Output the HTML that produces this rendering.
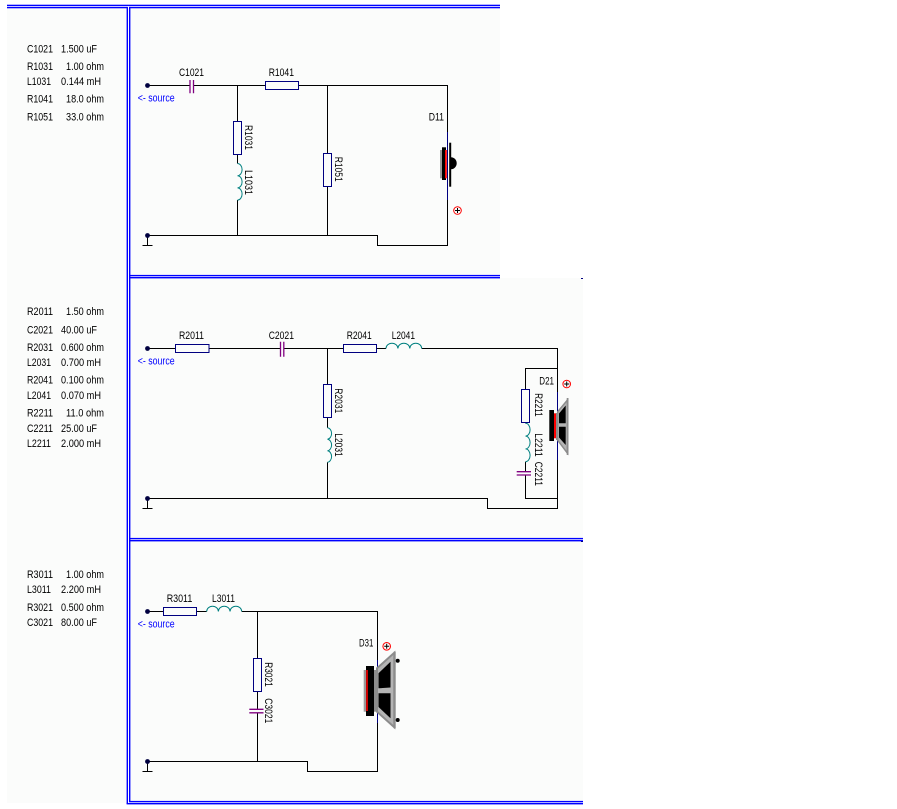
<!DOCTYPE html>
<html><head><meta charset="utf-8"><style>
html,body{margin:0;padding:0;background:#fff;width:897px;height:809px;overflow:hidden}
svg{display:block}
text{font-family:"Liberation Sans",sans-serif;font-size:11px;fill:#000}
.w{fill:none;stroke:#000;stroke-width:1}
.nv{fill:none;stroke:#000080;stroke-width:1}
.res{fill:#fbfcfb;stroke:#000080;stroke-width:1}
.ind{fill:none;stroke:#008080;stroke-width:1}
.cap{fill:none;stroke:#800080;stroke-width:1.3}
.src{fill:#0000ff}
.b{fill:#0000ff}
</style></head><body>
<svg width="897" height="809" viewBox="0 0 897 809" xmlns="http://www.w3.org/2000/svg">
<!-- backgrounds -->
<rect x="7" y="8" width="120" height="795" fill="#fbfcfb"/>
<rect x="130" y="8" width="370" height="267" fill="#fbfcfb"/>
<rect x="130" y="278" width="453" height="260" fill="#fbfcfb"/>
<rect x="130" y="541" width="453" height="260" fill="#fbfcfb"/>

<!-- blue table borders -->
<rect class="b" x="7" y="4.7" width="493" height="1.4"/>
<rect class="b" x="7" y="6.9" width="120" height="1.4"/>
<rect class="b" x="129" y="6.9" width="371" height="1.4"/>
<rect class="b" x="126.6" y="6.9" width="1.4" height="797"/>
<rect class="b" x="129" y="6.9" width="1.4" height="795"/>
<rect class="b" x="129" y="274.9" width="371" height="1.4"/>
<rect class="b" x="129" y="277" width="371" height="1.4"/>
<rect class="b" x="129" y="537.9" width="454" height="1.4"/>
<rect class="b" x="129" y="540" width="454" height="1.4"/>
<rect class="b" x="129" y="800.9" width="454" height="1.4"/>
<rect class="b" x="126.6" y="803" width="456.4" height="1.4"/>
<rect x="581" y="278" width="2" height="1" fill="#000080"/>
<rect x="581" y="541" width="2" height="1" fill="#000080"/>

<!-- ===== left column text ===== -->
<g>
<text x="27" y="52.5" textLength="26" lengthAdjust="spacingAndGlyphs">C1021</text>
<text x="61" y="52.5" textLength="36" lengthAdjust="spacingAndGlyphs">1.500 uF</text>
<text x="27" y="70" textLength="26" lengthAdjust="spacingAndGlyphs">R1031</text>
<text x="66" y="70" textLength="38" lengthAdjust="spacingAndGlyphs">1.00 ohm</text>
<text x="27" y="85" textLength="24" lengthAdjust="spacingAndGlyphs">L1031</text>
<text x="61" y="85" textLength="40" lengthAdjust="spacingAndGlyphs">0.144 mH</text>
<text x="27" y="102.7" textLength="26" lengthAdjust="spacingAndGlyphs">R1041</text>
<text x="66" y="102.7" textLength="38" lengthAdjust="spacingAndGlyphs">18.0 ohm</text>
<text x="27" y="120.7" textLength="26" lengthAdjust="spacingAndGlyphs">R1051</text>
<text x="66" y="120.7" textLength="38" lengthAdjust="spacingAndGlyphs">33.0 ohm</text>

<text x="27" y="315" textLength="26" lengthAdjust="spacingAndGlyphs">R2011</text>
<text x="66" y="315" textLength="38" lengthAdjust="spacingAndGlyphs">1.50 ohm</text>
<text x="27" y="333.3" textLength="26" lengthAdjust="spacingAndGlyphs">C2021</text>
<text x="61" y="333.3" textLength="36" lengthAdjust="spacingAndGlyphs">40.00 uF</text>
<text x="27" y="351" textLength="26" lengthAdjust="spacingAndGlyphs">R2031</text>
<text x="61" y="351" textLength="43" lengthAdjust="spacingAndGlyphs">0.600 ohm</text>
<text x="27" y="366" textLength="24" lengthAdjust="spacingAndGlyphs">L2031</text>
<text x="61" y="366" textLength="40" lengthAdjust="spacingAndGlyphs">0.700 mH</text>
<text x="27" y="383.3" textLength="26" lengthAdjust="spacingAndGlyphs">R2041</text>
<text x="61" y="383.3" textLength="43" lengthAdjust="spacingAndGlyphs">0.100 ohm</text>
<text x="27" y="399" textLength="24" lengthAdjust="spacingAndGlyphs">L2041</text>
<text x="61" y="399" textLength="40" lengthAdjust="spacingAndGlyphs">0.070 mH</text>
<text x="27" y="416.7" textLength="26" lengthAdjust="spacingAndGlyphs">R2211</text>
<text x="66" y="416.7" textLength="38" lengthAdjust="spacingAndGlyphs">11.0 ohm</text>
<text x="27" y="432" textLength="26" lengthAdjust="spacingAndGlyphs">C2211</text>
<text x="61" y="432" textLength="36" lengthAdjust="spacingAndGlyphs">25.00 uF</text>
<text x="27" y="447" textLength="24" lengthAdjust="spacingAndGlyphs">L2211</text>
<text x="61" y="447" textLength="40" lengthAdjust="spacingAndGlyphs">2.000 mH</text>

<text x="27" y="578" textLength="26" lengthAdjust="spacingAndGlyphs">R3011</text>
<text x="66" y="578" textLength="38" lengthAdjust="spacingAndGlyphs">1.00 ohm</text>
<text x="27" y="593" textLength="24" lengthAdjust="spacingAndGlyphs">L3011</text>
<text x="61" y="593" textLength="40" lengthAdjust="spacingAndGlyphs">2.200 mH</text>
<text x="27" y="611" textLength="26" lengthAdjust="spacingAndGlyphs">R3021</text>
<text x="61" y="611" textLength="43" lengthAdjust="spacingAndGlyphs">0.500 ohm</text>
<text x="27" y="626" textLength="26" lengthAdjust="spacingAndGlyphs">C3021</text>
<text x="61" y="626" textLength="36" lengthAdjust="spacingAndGlyphs">80.00 uF</text>
</g>

<!-- ===== Block 1 ===== -->
<path class="w" d="M147.5,85.5 H190 M193.5,85.5 H447.5 V132"/>
<path class="nv" d="M447.5,132 V200"/>
<path class="w" d="M447.5,200 V245.5 H377.5 V235.5 H147.5 V245.5 M142.5,245.5 H152.5"/>
<path class="w" d="M237.5,85.5 V163.5 M237.5,200 V235.5"/>
<path class="ind" d="M237.5,163.5 a4.6,6.1 0 0 1 0,12.2 a4.6,6.1 0 0 1 0,12.2 a4.6,6.1 0 0 1 0,12.2"/>
<path class="w" d="M327.5,85.5 V235.5"/>
<path class="cap" d="M190,80 V93.3 M193.5,80 V93.3"/>
<rect class="res" x="265.5" y="81.5" width="33" height="8"/>
<rect class="res" x="233.5" y="121.5" width="8" height="33"/>
<rect class="res" x="323.5" y="153.5" width="8" height="33"/>
<circle cx="147.5" cy="85.5" r="2.4" fill="#000040"/>
<circle cx="147.5" cy="235.5" r="2.4" fill="#000040"/>
<text class="src" x="137.7" y="101.5" textLength="37" lengthAdjust="spacingAndGlyphs">&lt;- source</text>
<text x="179" y="76" textLength="25" lengthAdjust="spacingAndGlyphs">C1021</text>
<text x="268.7" y="76" textLength="25.3" lengthAdjust="spacingAndGlyphs">R1041</text>
<text x="428.7" y="120.7" textLength="15.3" lengthAdjust="spacingAndGlyphs">D11</text>
<text transform="translate(245,125) rotate(90)" textLength="25" lengthAdjust="spacingAndGlyphs">R1031</text>
<text transform="translate(245,170) rotate(90)" textLength="25" lengthAdjust="spacingAndGlyphs">L1031</text>
<text transform="translate(335,156.7) rotate(90)" textLength="25" lengthAdjust="spacingAndGlyphs">R1051</text>
<!-- tweeter D11 -->
<rect x="440" y="150" width="2.2" height="28.3" fill="#9a9a9a"/>
<rect x="442" y="147.3" width="4" height="32.7" fill="#000"/>
<rect x="445" y="150" width="1.8" height="28.3" fill="#ff0000"/>
<rect x="449.2" y="142.7" width="2" height="44" fill="#000"/>
<path d="M451,157.3 A5.7,6 0 0 1 451,169.3 Z" fill="#000"/>
<circle cx="457.5" cy="210.5" r="3.8" fill="none" stroke="#f00" stroke-width="1"/>
<path d="M455,210.5 H460 M457.5,208 V213" stroke="#000" stroke-width="1"/>

<!-- ===== Block 2 ===== -->
<path class="w" d="M147.5,348.5 H280.5 M283.8,348.5 H386 M421.7,348.5 H557.5 V392"/>
<path class="nv" d="M557.5,392 V460"/>
<path class="w" d="M557.5,460 V508.5 H487.5 V498.5 H147.5 V508.5 M142.5,508.5 H152.5"/>
<path class="ind" d="M386,348.5 a5.95,5.3 0 0 1 11.9,0 a5.95,5.3 0 0 1 11.9,0 a5.95,5.3 0 0 1 11.9,0"/>
<path class="w" d="M327.5,348.5 V427.7 M327.5,462.3 V498.5"/>
<path class="ind" d="M327.5,427.7 a4.6,5.8 0 0 1 0,11.53 a4.6,5.8 0 0 1 0,11.53 a4.6,5.8 0 0 1 0,11.53"/>
<path class="w" d="M557.5,368.5 H525.5 V423.3 M525.5,461.7 V471.7 M525.5,475 V498.5 H557.5"/>
<path class="ind" d="M525.5,423.3 a4.6,6.4 0 0 1 0,12.8 a4.6,6.4 0 0 1 0,12.8 a4.6,6.4 0 0 1 0,12.8"/>
<path class="cap" d="M516.7,471.7 H531 M516.7,475 H531"/>
<path class="cap" d="M280.5,341.7 V356.7 M283.8,341.7 V356.7"/>
<rect class="res" x="175.5" y="344.5" width="33.5" height="8"/>
<rect class="res" x="343.5" y="344.5" width="33" height="8"/>
<rect class="res" x="323.5" y="384.5" width="8" height="33"/>
<rect class="res" x="521.5" y="389.5" width="8" height="33"/>
<circle cx="147.5" cy="348.5" r="2.4" fill="#000040"/>
<circle cx="147.5" cy="498.5" r="2.4" fill="#000040"/>
<text class="src" x="137.7" y="364.5" textLength="37" lengthAdjust="spacingAndGlyphs">&lt;- source</text>
<text x="179" y="339" textLength="25" lengthAdjust="spacingAndGlyphs">R2011</text>
<text x="268.7" y="339" textLength="25.3" lengthAdjust="spacingAndGlyphs">C2021</text>
<text x="346.7" y="339" textLength="25" lengthAdjust="spacingAndGlyphs">R2041</text>
<text x="391.7" y="339" textLength="23.3" lengthAdjust="spacingAndGlyphs">L2041</text>
<text x="539.3" y="384.5" textLength="14.7" lengthAdjust="spacingAndGlyphs">D21</text>
<text transform="translate(335,388.3) rotate(90)" textLength="25" lengthAdjust="spacingAndGlyphs">R2031</text>
<text transform="translate(335,433.3) rotate(90)" textLength="23.4" lengthAdjust="spacingAndGlyphs">L2031</text>
<text transform="translate(535,393.3) rotate(90)" textLength="23.4" lengthAdjust="spacingAndGlyphs">R2211</text>
<text transform="translate(535,433.3) rotate(90)" textLength="23.4" lengthAdjust="spacingAndGlyphs">L2211</text>
<text transform="translate(535,461.7) rotate(90)" textLength="24.3" lengthAdjust="spacingAndGlyphs">C2211</text>
<!-- driver D21 -->
<rect x="549.3" y="410" width="4.7" height="31" fill="#000"/>
<rect x="554" y="413.3" width="2" height="25" fill="#ff0000"/>
<rect x="556" y="413" width="2" height="27" fill="#8c8c8c"/>
<polygon points="557.7,411.7 567.5,400 567.5,453.3 557.7,440.3" fill="#b4b4b4" stroke="#8c8c8c" stroke-width="1.5"/>
<polygon points="559,413.5 565.7,405.5 565.7,423.3 559,423.3" fill="#000"/>
<polygon points="559,426.7 565.7,426.7 565.7,445 559,437.5" fill="#000"/>
<rect x="566.7" y="398" width="1.8" height="57" fill="#8c8c8c"/>
<circle cx="566.7" cy="384" r="3.8" fill="none" stroke="#f00" stroke-width="1"/>
<path d="M564.2,384 H569.2 M566.7,381.5 V386.5" stroke="#000" stroke-width="1"/>

<!-- ===== Block 3 ===== -->
<path class="w" d="M147.5,611.5 H206.7 M241.7,611.5 H377.5 V660"/>
<path class="nv" d="M377.5,660 V723"/>
<path class="w" d="M377.5,723 V771.5 H307.5 V761.5 H147.5 V771.5 M142.5,771.5 H152.5"/>
<path class="ind" d="M206.7,611.5 a5.83,5.3 0 0 1 11.67,0 a5.83,5.3 0 0 1 11.67,0 a5.83,5.3 0 0 1 11.67,0"/>
<path class="w" d="M257.5,611.5 V709.5 M257.5,712.8 V761.5"/>
<path class="cap" d="M249.3,709.3 H263.5 M249.3,712.8 H263.5"/>
<rect class="res" x="163.5" y="607.5" width="33" height="8"/>
<rect class="res" x="253.5" y="658.5" width="8" height="33"/>
<circle cx="147.5" cy="611.5" r="2.4" fill="#000040"/>
<circle cx="147.5" cy="761.5" r="2.4" fill="#000040"/>
<text class="src" x="137.7" y="627.5" textLength="37" lengthAdjust="spacingAndGlyphs">&lt;- source</text>
<text x="166.7" y="602" textLength="25.6" lengthAdjust="spacingAndGlyphs">R3011</text>
<text x="212" y="602" textLength="23" lengthAdjust="spacingAndGlyphs">L3011</text>
<text x="359" y="646.5" textLength="14.3" lengthAdjust="spacingAndGlyphs">D31</text>
<text transform="translate(265,662.3) rotate(90)" textLength="24.4" lengthAdjust="spacingAndGlyphs">R3021</text>
<text transform="translate(265,698.3) rotate(90)" textLength="25" lengthAdjust="spacingAndGlyphs">C3021</text>
<!-- driver D31 -->
<rect x="363.7" y="670" width="2.6" height="41.7" fill="#9a9a9a"/>
<rect x="366" y="666" width="8" height="50" fill="#000"/>
<rect x="366.2" y="670" width="1.6" height="41" fill="#ff0000"/>
<rect x="374" y="670" width="3" height="41.7" fill="#8c8c8c"/>
<polygon points="377,668.3 394.3,652.7 394.3,727.3 377,711.7" fill="#b4b4b4" stroke="#8c8c8c" stroke-width="2"/>
<polygon points="378.5,673.3 390.5,661.7 390.5,687.5 378.5,688.3" fill="#000"/>
<polygon points="378.5,693.3 390.5,693.3 390.5,718.3 378.5,707" fill="#000"/>
<rect x="393.7" y="651.7" width="2" height="76.6" fill="#8c8c8c"/>
<circle cx="397.7" cy="660.7" r="2" fill="#000"/>
<circle cx="397.7" cy="720" r="2" fill="#000"/>
<circle cx="386.7" cy="646.3" r="3.8" fill="none" stroke="#f00" stroke-width="1"/>
<path d="M384.2,646.3 H389.2 M386.7,643.8 V648.8" stroke="#000" stroke-width="1"/>
</svg>
</body></html>
